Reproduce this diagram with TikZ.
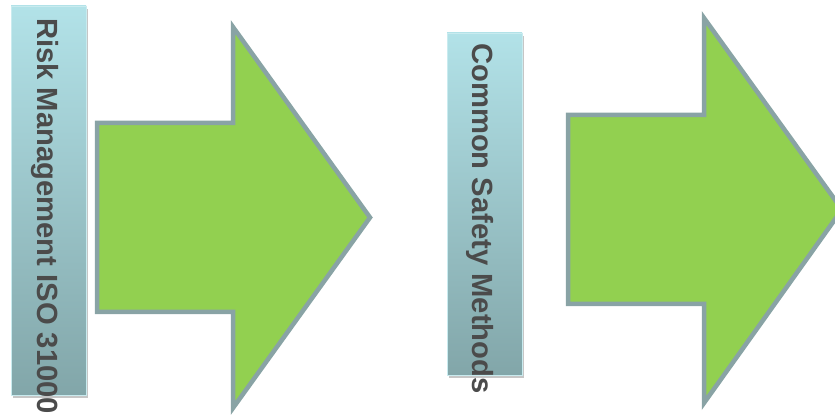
\documentclass[tikz,border=0pt]{standalone}
\usepackage{fontspec}
\setmainfont{Liberation Sans}
\usetikzlibrary{shadows}
\definecolor{ArrowGreen}{RGB}{146,208,80}
\definecolor{EdgeGray}{RGB}{137,163,165}
\definecolor{BarTop}{RGB}{178,226,232}
\definecolor{BarBottom}{RGB}{130,166,169}
\definecolor{TextGray}{RGB}{75,75,75}
\tikzset{
  bigarrow/.style={draw=EdgeGray,fill=ArrowGreen,line width=4.5pt,line join=miter},
  bar/.style={draw=BarTop!70!white,line width=0.8pt,top color=BarTop,bottom color=BarBottom,
    drop shadow={opacity=0.45,shadow xshift=1.5pt,shadow yshift=-3pt}},
  lab/.style={rotate=-90,anchor=west,inner sep=0pt,text=TextGray,font=\bfseries\fontsize{29.2}{30}\selectfont},
}

\begin{document}
\begin{tikzpicture}[x=1pt,y=1pt]
\clip (0,0) rectangle (835,415);
% bars
\path[bar] (11,20) rectangle (86,409);
\path[bar] (447,40) rectangle (522,382);
\node[lab] (risk) at (45,397) {Risk Management ISO 31000};
\node[lab] (csm) at (480.5,372) {Common Safety Methods};
% first arrow
\coordinate (a1) at (97,292);
\coordinate (a2) at (233,292);
\coordinate (a3) at (233,388);
\coordinate (a4) at (370,197.5);
\coordinate (a5) at (233,7);
\coordinate (a6) at (233,103);
\coordinate (a7) at (97,103);
\draw[bigarrow] (a1)--(a2)--(a3)--(a4)--(a5)--(a6)--(a7)--cycle;
% second arrow
\coordinate (b1) at (568,300);
\coordinate (b2) at (704,300);
\coordinate (b3) at (704,397);
\coordinate (b4) at (842,205.5);
\coordinate (b5) at (704,12);
\coordinate (b6) at (704,111);
\coordinate (b7) at (568,111);
\draw[bigarrow] (b1)--(b2)--(b3)--(b4)--(b5)--(b6)--(b7)--cycle;
\end{tikzpicture}
\end{document}
